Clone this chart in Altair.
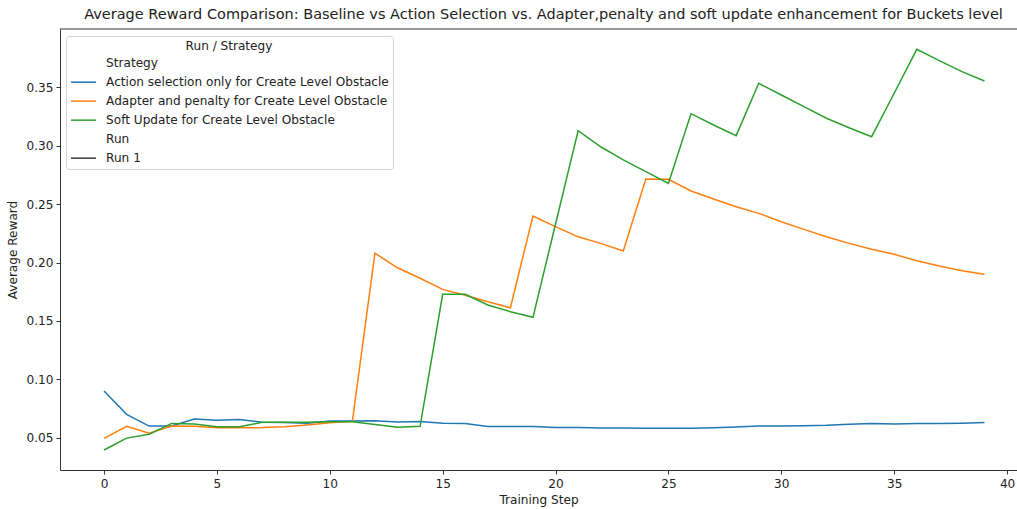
import altair as alt
import pandas as pd

steps = list(range(40))

action_only = [0.090, 0.070, 0.060, 0.060, 0.066, 0.065, 0.0657, 0.0632, 0.063, 0.0625,
               0.0643, 0.0643, 0.0646, 0.0634, 0.064, 0.0625, 0.0623, 0.0597, 0.0597, 0.0596,
               0.0587, 0.0587, 0.0584, 0.0584, 0.0581, 0.0581, 0.0582, 0.0586, 0.0592, 0.0601,
               0.0601, 0.0602, 0.0606, 0.0615, 0.0622, 0.0618, 0.0623, 0.0623, 0.0625, 0.0631]

adapter_penalty = [0.0495, 0.0598, 0.0538, 0.060, 0.0598, 0.0585, 0.0585, 0.0587, 0.0595, 0.061,
                   0.0628, 0.064, 0.208, 0.1955, 0.1865, 0.177, 0.172, 0.1664, 0.1613, 0.2398,
                   0.2307, 0.222, 0.2164, 0.2099, 0.2715, 0.2713, 0.2612, 0.2544, 0.2478, 0.2421,
                   0.2349, 0.2284, 0.2221, 0.2164, 0.2113, 0.207, 0.2015, 0.197, 0.193, 0.1899]

soft_update = [0.0395, 0.0497, 0.053, 0.0623, 0.0617, 0.0594, 0.0594, 0.0632, 0.0632, 0.0632,
               0.0637, 0.0637, 0.0614, 0.0589, 0.0598, 0.1728, 0.1728, 0.1636, 0.1579, 0.1531,
               0.233, 0.3128, 0.2991, 0.2878, 0.2778, 0.2678, 0.3274, 0.3177, 0.3086, 0.3534,
               0.3434, 0.3334, 0.3235, 0.3154, 0.3077, 0.3449, 0.3825, 0.3728, 0.3634, 0.3554]

strategy_names = [
    "Action selection only for Create Level Obstacle",
    "Adapter and penalty for Create Level Obstacle",
    "Soft Update for Create Level Obstacle",
]
legend_domain = ["Strategy"] + strategy_names + ["Run", "Run 1"]
legend_colors = ["transparent", "#1f77b4", "#ff7f0e", "#2ca02c", "transparent", "#3a3a3a"]

x_ticks = [0, 5, 10, 15, 20, 25, 30, 35, 40]
y_ticks = [0.05, 0.10, 0.15, 0.20, 0.25, 0.30, 0.35]

rows = []
for k, (name, vals) in enumerate(zip(strategy_names, [action_only, adapter_penalty, soft_update])):
    for s, v in zip(steps, vals):
        rows.append({"step": s, "reward": v, "strategy": name, "k": k})
df = pd.DataFrame(rows)

FONT = "DejaVu Sans"
FS = 12.1
NB = "\u00a0"
label_expr = (
    "datum.label == 'Strategy' || datum.label == 'Run' || datum.label == 'Run 1' ? datum.label : '"
    + NB + "' + datum.label"
)

lines = alt.Chart(df).mark_line(strokeWidth=1.5).encode(
    x=alt.X(
        "step:Q",
        scale=alt.Scale(domain=[-1.95, 40.44], nice=False, zero=False),
        axis=alt.Axis(values=x_ticks, format="d", title="Training Step", grid=False,
                      labelFlush=False, labelOverlap=False, labelPadding=3, titlePadding=4),
    ),
    y=alt.Y(
        "reward:Q",
        scale=alt.Scale(domain=[0.0224, 0.3999], nice=False, zero=False),
        axis=alt.Axis(values=y_ticks, format=".2f", title="Average Reward", grid=False,
                      labelPadding=3, titlePadding=7),
    ),
    color=alt.Color(
        "strategy:N",
        scale=alt.Scale(domain=legend_domain, range=legend_colors),
        legend=alt.Legend(
            title="Run / Strategy",
            orient="none",
            legendX=6,
            legendY=7,
            padding=4,
            fillColor="white",
            strokeColor="#d2d2d2",
            cornerRadius=3,
            symbolType="M-1,0H4",
            symbolSize=100,
            symbolStrokeWidth=1.5,
            labelOffset=24,
            rowPadding=6,
            labelExpr=label_expr,
            labelFont=FONT,
            labelFontSize=FS,
            labelColor="#222222",
            labelLimit=400,
            titleFont=FONT,
            titleFontSize=FS,
            titleFontWeight="normal",
            titleColor="#222222",
            titleAnchor="middle",
            titlePadding=5,
        ),
    ),
    order=alt.Order("k:Q"),
    detail="strategy:N",
)

top_spine = alt.Chart(pd.DataFrame({"a": [0]})).mark_rule(color="#333333", strokeWidth=1).encode(
    y=alt.value(0)
)

chart = alt.layer(lines, top_spine).properties(
    width=957,
    height=441,
    padding={"left": 60, "top": 29, "right": 0, "bottom": 39},
    autosize=alt.AutoSizeParams(type="none"),
    background="white",
    title=alt.TitleParams(
        text="Average Reward Comparison: Baseline vs Action Selection vs. Adapter,penalty and soft update enhancement for Buckets level",
        anchor="middle",
        font=FONT,
        fontSize=14.5,
        fontWeight="normal",
        color="#222222",
        baseline="alphabetic",
        offset=8,
        dx=5,
        dy=13,
    ),
).configure_view(stroke=None).configure_axis(
    grid=False,
    domainColor="#333333",
    domainWidth=1,
    tickColor="#333333",
    tickSize=4,
    labelFont=FONT,
    labelFontSize=FS,
    labelColor="#222222",
    titleFont=FONT,
    titleFontSize=FS,
    titleFontWeight="normal",
    titleColor="#222222",
)

chart.save("out.html", embed_options={"renderer": "svg", "actions": False})
